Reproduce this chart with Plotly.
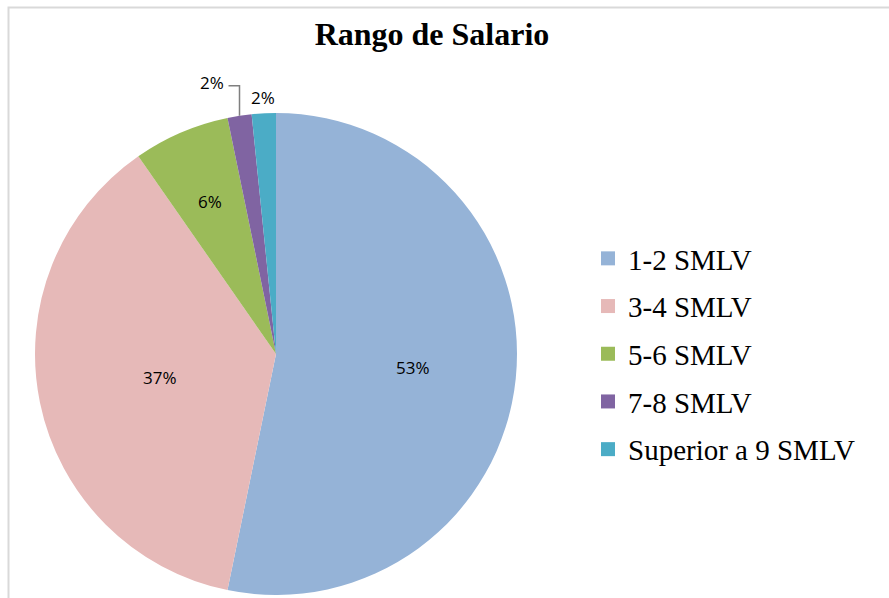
import math
import plotly.graph_objects as go

categories = ["1-2 SMLV", "3-4 SMLV", "5-6 SMLV", "7-8 SMLV", "Superior a 9 SMLV"]
counts = [33, 23, 4, 1, 1]
colors = ["#95B3D7", "#E6B9B8", "#9BBB59", "#8064A2", "#4BACC6"]
inside_label = [True, True, True, False, False]
# radial placement of the inside labels, as a fraction of the pie radius
label_radius = [0.57, 0.49, 0.69, 1.0, 1.0]

W, H = 889, 598
# pie geometry (pixels)
CX, CY, R = 276, 354, 241
LABEL_FONT = dict(family="Open Sans, Liberation Sans, sans-serif", size=17, color="#000000")

total = sum(counts)
pct_text = [f"{round(100 * c / total)}%" for c in counts]

fig = go.Figure()
fig.add_trace(go.Pie(
    labels=categories,
    values=counts,
    sort=False,
    direction="clockwise",
    rotation=0,
    marker=dict(colors=colors, line=dict(width=0)),
    textposition="none",
    hoverinfo="label+percent",
    showlegend=False,
    domain=dict(x=[(CX - R) / W, (CX + R) / W], y=[(H - CY - R) / H, (H - CY + R) / H]),
))

# legend entries (one group each so they can be spaced like the original)
for i, (cat, col) in enumerate(zip(categories, colors)):
    fig.add_trace(go.Scatter(
        x=[None], y=[None], mode="markers", name=cat,
        marker=dict(symbol="square", size=14, color=col),
        legendgroup=f"g{i}", showlegend=True, hoverinfo="skip",
    ))

def px(x):
    return x / W

def py(y):
    return 1 - y / H

# data labels placed from each slice's mid-angle
annotations = []
shapes = []
cum = 0
for i, c in enumerate(counts):
    mid = (cum + c / 2) / total * 2 * math.pi
    cum += c
    d = R * label_radius[i]
    lx = CX + d * math.sin(mid)
    ly = CY - d * math.cos(mid)
    if inside_label[i]:
        annotations.append(dict(x=px(lx), y=py(ly), xref="paper", yref="paper",
                                text=pct_text[i], showarrow=False, xanchor="center", yanchor="middle",
                                font=LABEL_FONT))
    elif i == 3:
        # elbow leader line up and to the left
        top = ly - 30
        left = lx - 11
        shapes.append(dict(type="path", xref="paper", yref="paper",
                           path=f"M {px(lx)},{py(ly)} L {px(lx)},{py(top)} L {px(left)},{py(top)}",
                           line=dict(color="#7F7F7F", width=1.5)))
        annotations.append(dict(x=px(left - 3), y=py(top - 3), xref="paper", yref="paper",
                                text=pct_text[i], showarrow=False, xanchor="right", yanchor="middle",
                                font=LABEL_FONT))
    else:
        annotations.append(dict(x=px(lx - 1), y=py(ly - 16), xref="paper", yref="paper",
                                text=pct_text[i], showarrow=False, xanchor="center", yanchor="middle",
                                font=LABEL_FONT))

shapes.append(dict(type="rect", xref="paper", yref="paper",
                   x0=8.5 / W, x1=1.05, y0=-0.05, y1=1 - 7.5 / H,
                   line=dict(color="#D9D9D9", width=2), fillcolor="rgba(0,0,0,0)"))

fig.update_layout(
    width=W, height=H,
    margin=dict(l=0, r=0, t=0, b=0),
    paper_bgcolor="white",
    plot_bgcolor="rgba(0,0,0,0)",
    xaxis=dict(visible=False),
    yaxis=dict(visible=False),
    title=dict(text="<b>Rango de Salario</b>", x=432 / W, xanchor="center",
               y=1 - 34 / H, yanchor="middle",
               font=dict(family="Liberation Serif, Times New Roman, serif", size=32, color="#000000")),
    legend=dict(x=588 / W, y=1 - 233 / H, xanchor="left", yanchor="top",
                font=dict(family="Liberation Serif, Times New Roman, serif", size=29, color="#000000"),
                tracegroupgap=7, itemsizing="trace", bgcolor="rgba(0,0,0,0)"),
    annotations=annotations,
    shapes=shapes,
)

fig.write_html("out.html", config={"displayModeBar": False},
               post_script="document.body.style.margin='0';")
